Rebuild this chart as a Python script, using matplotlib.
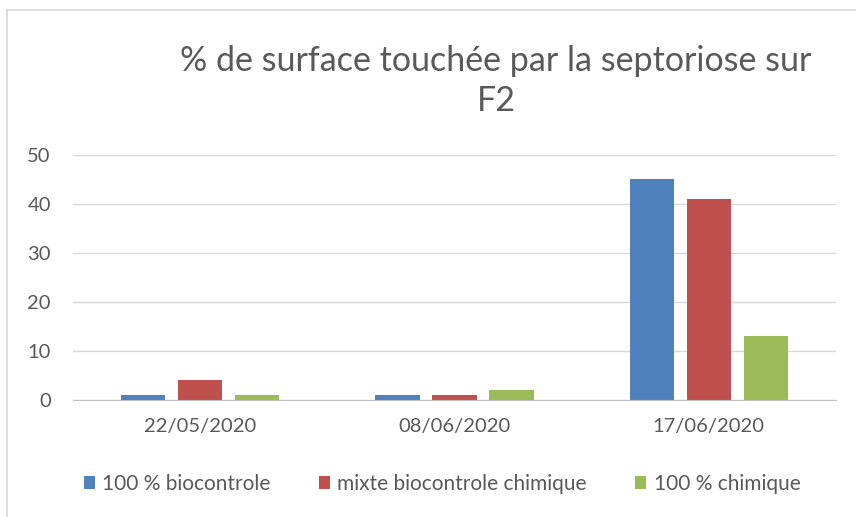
import matplotlib.pyplot as plt
import numpy as np
from matplotlib.lines import Line2D

# data
dates = ['22/05/2020', '08/06/2020', '17/06/2020']
bio = [1, 1, 45]
mixte = [4, 1, 41]
chimique = [1, 2, 13]
series_names = ['100 % biocontrole', 'mixte biocontrole chimique', '100 % chimique']
colors = ['#4f81bd', '#c0504d', '#9bbb59']

plt.rcParams['font.family'] = ['Lato', 'DejaVu Sans']

W, H = 856, 517
fig = plt.figure(figsize=(W / 100, H / 100), dpi=100)
ax = fig.add_axes([73 / W, 1 - 400 / H, (836 - 73) / W, (400 - 155) / H])

x = np.arange(len(dates))
bw = 0.174
step = 0.224
for i, (vals, name, c) in enumerate(zip([bio, mixte, chimique], series_names, colors)):
    ax.bar(x + (i - 1) * step, vals, width=bw, color=c, label=name, zorder=3)

ax.set_xlim(-0.5, 2.5)
ax.set_ylim(0, 50)
ax.set_yticks(range(0, 51, 10))
ax.set_xticks(x)
ax.set_xticklabels(dates)
ax.grid(axis='y', color='#d9d9d9', linewidth=1, zorder=0)
for s in ['top', 'right', 'left']:
    ax.spines[s].set_visible(False)
ax.spines['bottom'].set_color('#bfbfbf')
ax.spines['bottom'].set_zorder(4)
ax.tick_params(axis='both', length=0, labelsize=14.5, colors='#595959')
ax.tick_params(axis='x', pad=13)
ax.tick_params(axis='y', pad=16)

fig.text(496 / W, 1 - 61 / H, '% de surface touchée par la septoriose sur',
         ha='center', va='center', fontsize=24.5, color='#595959')
fig.text(496 / W, 1 - 101 / H, 'F2', ha='center', va='center', fontsize=24.5, color='#595959')

leg = fig.legend(loc='center', bbox_to_anchor=(442 / W, 1 - 484 / H), ncol=3, frameon=False,
                 fontsize=15, handlelength=0.55, handleheight=0.55, handletextpad=0.35,
                 columnspacing=2.3)
for t in leg.get_texts():
    t.set_color('#595959')

# chart frame
fig.add_artist(Line2D([7 / W, 7 / W], [0, 1 - 10 / H], color='#d9d9d9', lw=1.2, transform=fig.transFigure))
fig.add_artist(Line2D([7 / W, 1], [1 - 10 / H, 1 - 10 / H], color='#d9d9d9', lw=1.2, transform=fig.transFigure))

fig.savefig('out.png', dpi=100)
